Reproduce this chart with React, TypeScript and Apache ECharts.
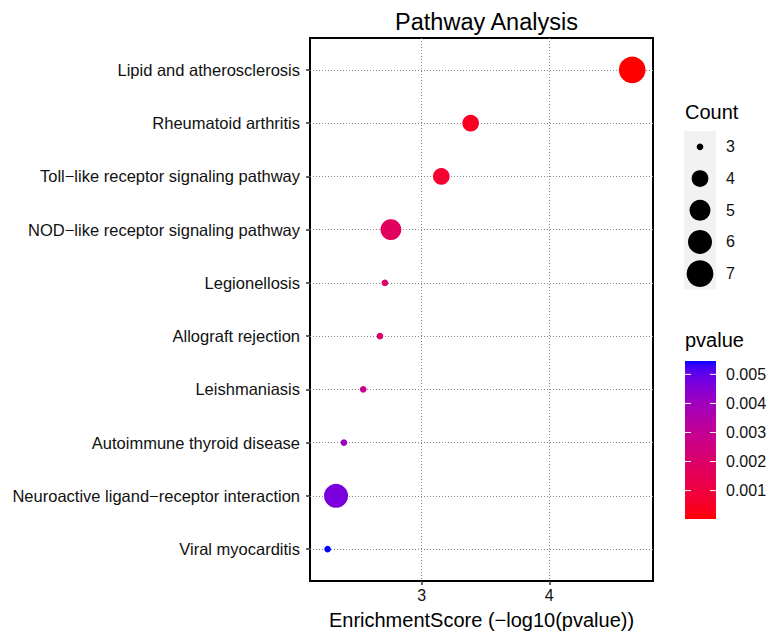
import React, { useEffect, useRef } from "react";
import * as echarts from "echarts";

// ---- data ----
const pathways = [
  "Viral myocarditis",
  "Neuroactive ligand\u2212receptor interaction",
  "Autoimmune thyroid disease",
  "Leishmaniasis",
  "Allograft rejection",
  "Legionellosis",
  "NOD\u2212like receptor signaling pathway",
  "Toll\u2212like receptor signaling pathway",
  "Rheumatoid arthritis",
  "Lipid and atherosclerosis",
];
const enrichmentScore = [2.263, 2.329, 2.391, 2.542, 2.673, 2.712, 2.759, 3.154, 3.384, 4.65];
const counts = [3, 6, 3, 3, 3, 3, 5, 4, 4, 7];
const pvalues = [0.00546, 0.00469, 0.00406, 0.00287, 0.00212, 0.00194, 0.00174, 0.0007, 0.00041, 0.0000224];
const xTicks = [3, 4];
const countLegend = [3, 4, 5, 6, 7];
const pvalueTicks = [0.001, 0.002, 0.003, 0.004, 0.005];

// ---- helpers (styling) ----
const FONT = "Liberation Sans, Arial, Helvetica, sans-serif";
const cMin = Math.min(...countLegend);
const cMax = Math.max(...countLegend);
function sizeOf(c: number) {
  const s = 1 + 5 * Math.sqrt((c - cMin) / (cMax - cMin));
  return 2.7 + 4 * s;
}

function toLin(c: number) {
  c /= 255;
  return c <= 0.04045 ? c / 12.92 : Math.pow((c + 0.055) / 1.055, 2.4);
}
function fromLin(c: number) {
  const v = c <= 0.0031308 ? 12.92 * c : 1.055 * Math.pow(c, 1 / 2.4) - 0.055;
  return Math.max(0, Math.min(255, Math.round(v * 255)));
}
const Xn = 0.95047, Yn = 1, Zn = 1.08883;
function f(t: number) {
  return t > 0.008856 ? Math.cbrt(t) : 7.787 * t + 16 / 116;
}
function finv(t: number) {
  return t > 0.206893 ? t * t * t : (t - 16 / 116) / 7.787;
}
function rgbToLab(r: number, g: number, b: number) {
  const R = toLin(r), G = toLin(g), B = toLin(b);
  const X = 0.4124 * R + 0.3576 * G + 0.1805 * B;
  const Y = 0.2126 * R + 0.7152 * G + 0.0722 * B;
  const Z = 0.0193 * R + 0.1192 * G + 0.9505 * B;
  const fx = f(X / Xn), fy = f(Y / Yn), fz = f(Z / Zn);
  return [116 * fy - 16, 500 * (fx - fy), 200 * (fy - fz)];
}
function labToHex(L: number, a: number, b: number) {
  const fy = (L + 16) / 116;
  const fx = fy + a / 500;
  const fz = fy - b / 200;
  const X = Xn * finv(fx), Y = Yn * finv(fy), Z = Zn * finv(fz);
  const R = 3.2406 * X - 1.5372 * Y - 0.4986 * Z;
  const G = -0.9689 * X + 1.8758 * Y + 0.0415 * Z;
  const B = 0.0557 * X - 0.204 * Y + 1.057 * Z;
  const h = (v: number) => fromLin(Math.max(0, v)).toString(16).padStart(2, "0");
  return "#" + h(R) + h(G) + h(B);
}
const labLow = rgbToLab(255, 0, 0);
const labHigh = rgbToLab(0, 0, 255);
const NSTOP = 40;
const rampColors: string[] = [];
for (let i = 0; i <= NSTOP; i++) {
  const t = i / NSTOP;
  rampColors.push(
    labToHex(
      labLow[0] + (labHigh[0] - labLow[0]) * t,
      labLow[1] + (labHigh[1] - labLow[1]) * t,
      labLow[2] + (labHigh[2] - labLow[2]) * t
    )
  );
}

export default function App() {
  const ref = useRef<HTMLDivElement>(null);
  useEffect(() => {
    if (!ref.current) return;
    const chart = echarts.init(ref.current, undefined, { renderer: "svg" });

    const pMin = Math.min(...pvalues);
    const pMax = Math.max(...pvalues);

    const data = pathways.map((_, i) => [enrichmentScore[i], i, pvalues[i], counts[i]]);

    // legends (graphic)
    const legX = 684;
    const legW = 32;
    const keyH = 31.7;
    const countTop = 131;
    const graphics: any[] = [];
    graphics.push({
      type: "text",
      left: legX + 1,
      top: 102,
      style: { text: "Count", font: `20px ${FONT}`, fill: "#000" },
    });
    graphics.push({
      type: "rect",
      shape: { x: legX, y: countTop, width: legW, height: keyH * countLegend.length },
      style: { fill: "#F2F2F2" },
    });
    countLegend.forEach((c, i) => {
      const cy = countTop + keyH * (i + 0.5);
      graphics.push({
        type: "circle",
        shape: { cx: legX + legW / 2, cy, r: sizeOf(c) / 2 },
        style: { fill: "#000" },
      });
      graphics.push({
        type: "text",
        x: legX + legW + 10,
        y: cy,
        style: { text: String(c), font: `16px ${FONT}`, fill: "#111", verticalAlign: "middle" },
      });
    });

    const barTop = 361;
    const barH = 158;
    graphics.push({
      type: "text",
      left: legX + 1,
      top: 330,
      style: { text: "pvalue", font: `20px ${FONT}`, fill: "#000" },
    });
    graphics.push({
      type: "rect",
      shape: { x: legX + 1, y: barTop, width: legW - 1, height: barH },
      style: {
        fill: new echarts.graphic.LinearGradient(
          0, 0, 0, 1,
          rampColors.map((c, i) => ({ offset: 1 - i / NSTOP, color: c })).reverse()
        ),
      },
    });
    pvalueTicks.forEach((v) => {
      const y = barTop + barH - ((v - pMin) / (pMax - pMin)) * barH;
      graphics.push({
        type: "line",
        shape: { x1: legX + 1, y1: y, x2: legX + 7, y2: y },
        style: { stroke: "#fff", lineWidth: 1 },
      });
      graphics.push({
        type: "line",
        shape: { x1: legX + legW - 6, y1: y, x2: legX + legW, y2: y },
        style: { stroke: "#fff", lineWidth: 1 },
      });
      graphics.push({
        type: "text",
        x: legX + legW + 10,
        y,
        style: { text: v.toFixed(3), font: `16px ${FONT}`, fill: "#111", verticalAlign: "middle" },
      });
    });

    chart.setOption({
      animation: false,
      backgroundColor: "#fff",
      textStyle: { fontFamily: FONT },
      title: {
        text: "Pathway Analysis",
        left: 481.5,
        textAlign: "center",
        top: 5,
        textStyle: { fontSize: 23.5, fontWeight: "normal", color: "#000", fontFamily: FONT },
      },
      grid: {
        left: 310,
        right: 122,
        top: 38,
        bottom: 52,
        show: true,
        borderColor: "#000",
        borderWidth: 2,
        backgroundColor: "#fff",
      },
      xAxis: {
        type: "value",
        min: 2.125,
        max: 4.813,
        name: "EnrichmentScore (\u2212log10(pvalue))",
        nameLocation: "middle",
        nameGap: 29,
        nameTextStyle: { fontSize: 20, color: "#000", fontFamily: FONT },
        axisLine: { show: false, onZero: false },
        axisTick: { show: true, customValues: xTicks, length: 4, lineStyle: { color: "#333", width: 1.5 } },
        axisLabel: { customValues: xTicks, fontSize: 16, color: "#111", margin: 6, fontFamily: FONT },
        splitLine: { show: true, lineStyle: { color: "#888", type: [1, 2], width: 1 } },
      },
      yAxis: {
        type: "value",
        min: -0.6,
        max: pathways.length - 1 + 0.6,
        axisLine: { show: false, onZero: false },
        axisTick: {
          show: true,
          customValues: pathways.map((_, i) => i),
          length: 4,
          lineStyle: { color: "#333", width: 1.5 },
        },
        axisLabel: {
          customValues: pathways.map((_, i) => i),
          formatter: (v: number) => pathways[Math.round(v)] ?? "",
          fontSize: 16.5,
          color: "#111",
          margin: 10,
          fontFamily: FONT,
        },
        splitLine: { show: true, lineStyle: { color: "#888", type: [1, 2], width: 1 } },
      },
      visualMap: {
        show: false,
        type: "continuous",
        dimension: 2,
        min: pMin,
        max: pMax,
        seriesIndex: 0,
        inRange: { color: rampColors },
      },
      series: [
        {
          type: "scatter",
          data,
          symbol: "circle",
          symbolSize: (val: number[]) => sizeOf(val[3]),
          itemStyle: { opacity: 1 },
          z: 5,
        },
      ],
      graphic: graphics,
    });
    return () => chart.dispose();
  }, []);
  return <div ref={ref} style={{ position: "absolute", left: 0, top: 0, width: 775, height: 635 }} />;
}
